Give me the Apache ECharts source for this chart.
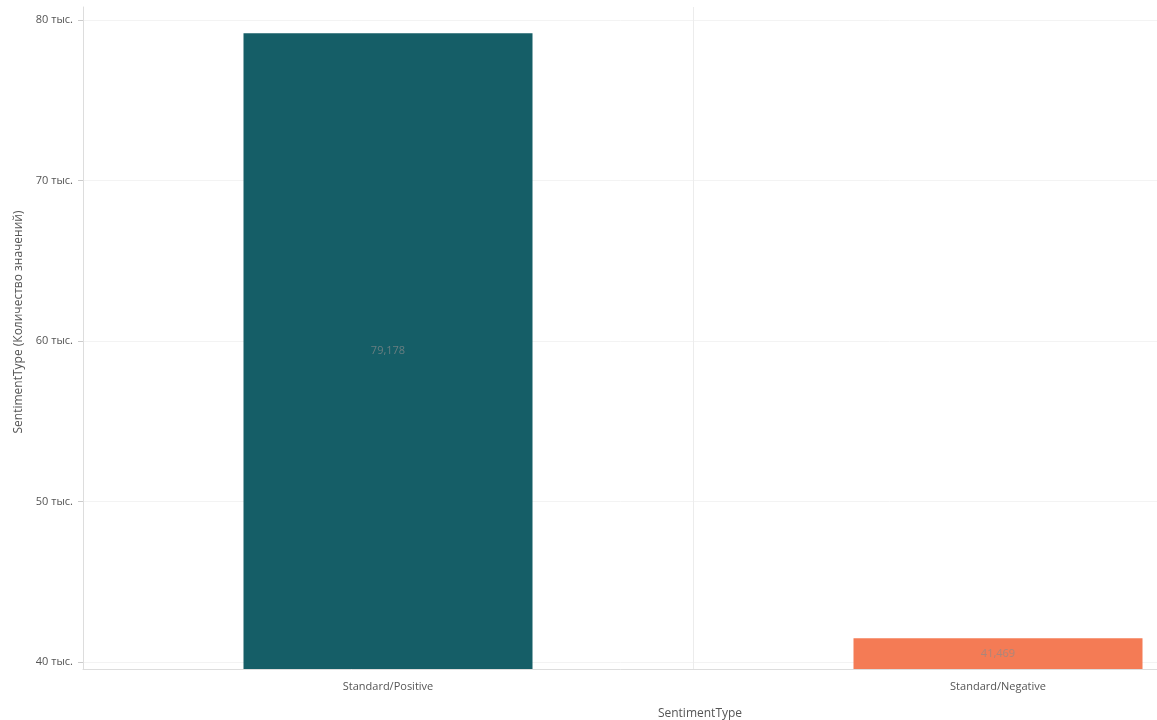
<!DOCTYPE html>
<html>
<head>
<meta charset="utf-8">
<script src="https://cdn.jsdelivr.net/npm/echarts@6/dist/echarts.min.js"></script>
<style>html,body{margin:0;padding:0;background:#fff;}#c{width:1157px;height:720px;}</style>
</head>
<body>
<div id="c"></div>
<script>
const categories = ['Standard/Positive', 'Standard/Negative'];
const values = [79178, 41469];
const barColors = ['#155E67', '#F47B55'];
const xName = 'SentimentType';
const yName = 'SentimentType (Количество значений)';

const chart = echarts.init(document.getElementById('c'));
chart.setOption({
  animation: false,
  textStyle: { fontFamily: 'Open Sans' },
  grid: { left: 83, top: 7, bottom: 51, width: 1220, outerBoundsMode: 'none', containLabel: false },
  xAxis: {
    type: 'category',
    data: categories,
    name: xName,
    nameLocation: 'middle',
    nameGap: 39,
    nameTextStyle: { color: '#555', fontSize: 12, padding: [0, 0, 0, 14] },
    axisLine: { lineStyle: { color: '#ddd' } },
    axisTick: { show: false },
    axisLabel: { color: '#555', fontSize: 11, margin: 12 },
    splitLine: { show: true, lineStyle: { color: '#ececec' } }
  },
  yAxis: {
    type: 'value',
    min: 39560,
    max: 80810,
    name: yName,
    nameLocation: 'middle',
    nameGap: 58,
    nameTextStyle: { color: '#555', fontSize: 12, padding: [0, 0, 0, 32] },
    axisLine: { show: true, lineStyle: { color: '#ddd' } },
    axisTick: { show: true, length: 5, lineStyle: { color: '#ccc' } },
    axisLabel: {
      color: '#555', fontSize: 11, margin: 10,
      showMinLabel: false, showMaxLabel: false,
      formatter: v => (v % 10000 === 0 ? (v / 1000) + ' тыс.' : '')
    },
    splitLine: { show: true, showMinLine: false, showMaxLine: false, lineStyle: { color: '#f3f3f3' } }
  },
  series: [{
    type: 'bar',
    barWidth: 289,
    data: values.map((v, i) => ({ value: v, itemStyle: { color: barColors[i] } })),
    label: {
      show: true,
      position: 'inside',
      color: 'rgba(140,140,140,0.7)',
      fontSize: 11,
      formatter: p => p.value.toLocaleString('en-US')
    }
  }]
});
</script>
</body>
</html>
